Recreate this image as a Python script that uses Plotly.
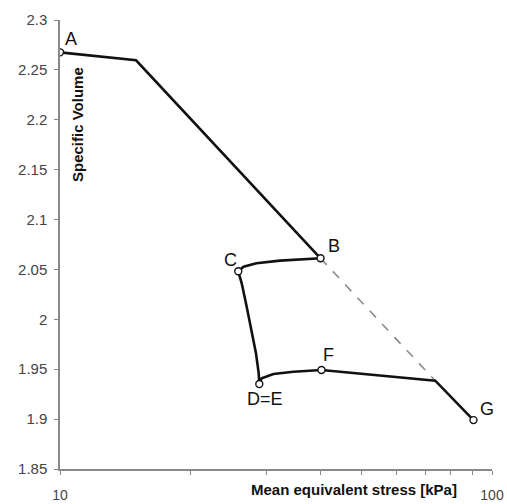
import math
import plotly.graph_objects as go

# Main loading path (A -> B -> C -> D=E -> F -> G)
path_x = [10.0, 15.0, 40.1, 32.3, 28.5, 26.6, 25.86, 26.34, 27.05, 27.78, 28.42, 28.84, 28.93,
          29.3, 31.2, 34.7, 40.3, 73.9, 90.6]
path_y = [2.2676, 2.2596, 2.0612, 2.0588, 2.0562, 2.0528, 2.0482, 2.0361, 2.0127, 1.9893, 1.9660, 1.9459, 1.9352,
          1.9409, 1.9452, 1.9475, 1.9492, 1.9385, 1.8990]

# Dashed continuation of the normal compression line
dash_x = [40.1, 73.9]
dash_y = [2.0612, 1.9385]

# Labelled state points
pt_labels = ["A", "B", "C", "D=E", "F", "G"]
pt_x = [10.0, 40.1, 25.86, 28.93, 40.3, 90.6]
pt_y = [2.2676, 2.0612, 2.0482, 1.9352, 1.9492, 1.8990]

y_ticks = [1.85, 1.9, 1.95, 2.0, 2.05, 2.1, 2.15, 2.2, 2.25, 2.3]
y_tick_text = ["1.85", "1.9", "1.95", "2", "2.05", "2.1", "2.15", "2.2", "2.25", "2.3"]
x_ticks = [10, 20, 30, 40, 50, 60, 70, 80, 90, 100]
x_tick_text = ["10", "", "", "", "", "", "", "", "", "100"]

label_shift = {"A": (11, 13), "B": (13, 12), "C": (-8, 11), "D=E": (6, -15), "F": (7, 15), "G": (14, 11)}

W, H = 507, 504
L, R, T, B = 60, 15, 20, 35
pw, ph = W - L - R, H - T - B

fig = go.Figure()
fig.add_trace(go.Scatter(x=dash_x, y=dash_y, mode="lines",
                         line=dict(color="#8a8a8a", width=1.6, dash="dash"), hoverinfo="skip"))
fig.add_trace(go.Scatter(x=path_x, y=path_y, mode="lines",
                         line=dict(color="#111111", width=2.6), hoverinfo="skip"))
fig.add_trace(go.Scatter(x=pt_x, y=pt_y, mode="markers",
                         marker=dict(size=7, color="white", line=dict(color="#111111", width=1.4)),
                         hoverinfo="skip"))

annotations = []
for lab, xv, yv in zip(pt_labels, pt_x, pt_y):
    dx, dy = label_shift[lab]
    annotations.append(dict(x=math.log10(xv), y=yv, xref="x", yref="y", text=lab, showarrow=False,
                            xanchor="center", yanchor="middle",
                            xshift=dx, yshift=dy, font=dict(family="Arial, Liberation Sans", size=18, color="#111111")))

annotations.append(dict(x=(78 - L) / pw, y=(H - B - 125) / ph, xref="paper", yref="paper",
                        xanchor="center", yanchor="middle",
                        text="<b>Specific Volume</b>", showarrow=False, textangle=-90,
                        font=dict(family="Arial, Liberation Sans", size=15, color="#111111")))
annotations.append(dict(x=(459 - L) / pw, y=(H - B - 489) / ph, xref="paper", yref="paper",
                        xanchor="right", yanchor="middle",
                        text="<b>Mean equivalent stress [kPa]</b>", showarrow=False,
                        font=dict(family="Arial, Liberation Sans", size=15, color="#111111")))

fig.update_layout(
    width=W, height=H,
    margin=dict(l=L, r=R, t=T, b=B, autoexpand=False),
    paper_bgcolor="white", plot_bgcolor="white",
    showlegend=False,
    annotations=annotations,
    font=dict(family="Arial, Liberation Sans", color="#444444"),
)
fig.update_xaxes(type="log", range=[1, 2], tickvals=x_ticks, ticktext=x_tick_text, automargin=False,
                 showgrid=False, zeroline=False, showline=True, linecolor="#888888", linewidth=1.5,
                 ticks="outside", ticklen=4, tickcolor="#888888", tickwidth=1,
                 tickfont=dict(size=14, color="#444444"), ticklabelstandoff=8)
fig.update_yaxes(range=[1.85, 2.3], tickvals=y_ticks, ticktext=y_tick_text, automargin=False,
                 showgrid=False, zeroline=False, showline=True, linecolor="#888888", linewidth=1.5,
                 ticks="outside", ticklen=4, tickcolor="#888888", tickwidth=1,
                 tickfont=dict(size=15, color="#444444"), ticklabelstandoff=4)

fig.write_html("out.html", config={"displayModeBar": False},
               post_script="document.body.style.margin='0';document.body.style.overflow='hidden';")
